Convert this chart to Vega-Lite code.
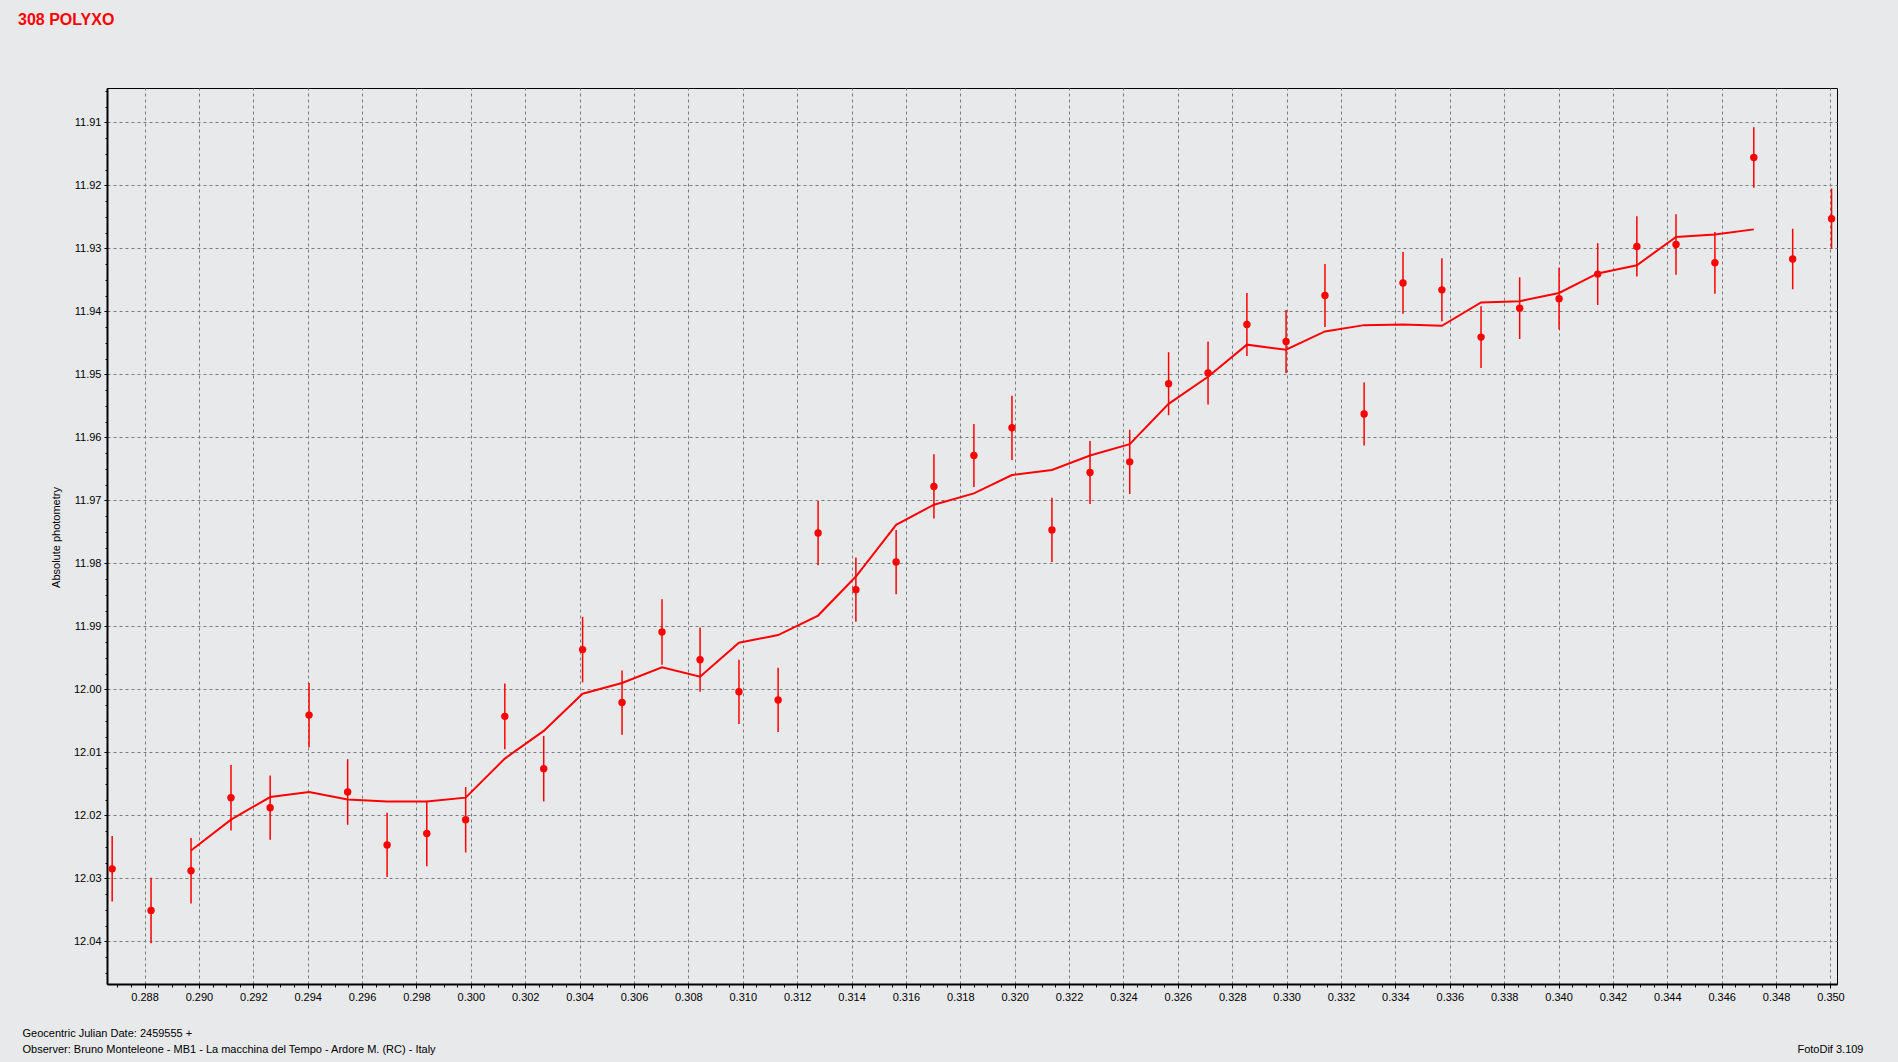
{
  "$schema": "https://vega.github.io/schema/vega-lite/v6.json",
  "width": 1730,
  "height": 896,
  "autosize": {"type": "none"},
  "padding": {"left": 107, "top": 88, "right": 61, "bottom": 78},
  "background": "#e8e9eb",
  "config": {
    "view": {"stroke": "#000000", "strokeWidth": 1},
    "font": "Liberation Sans",
    "axis": {
      "labelFont": "Liberation Sans", "labelFontSize": 11, "labelColor": "#000000",
      "titleFont": "Liberation Sans", "titleFontSize": 11, "titleFontWeight": "normal", "titleColor": "#000000",
      "domainColor": "#000000", "tickColor": "#000000",
      "gridColor": "#7a7a7a", "gridDash": [3, 3], "gridOpacity": 1, "gridWidth": 1
    }
  },
  "title": {
    "text": "308 POLYXO", "anchor": "start", "frame": "group", "color": "#ff0000",
    "font": "Liberation Sans", "fontSize": 16, "fontWeight": "bold", "dx": -89, "offset": 60
  },
  "datasets": {
    "pts": [
      {"jd": 0.28681, "mag": 12.0285, "lo": 12.0233, "hi": 12.0337},
      {"jd": 0.28824, "mag": 12.0351, "lo": 12.0299, "hi": 12.0403},
      {"jd": 0.28971, "mag": 12.0288, "lo": 12.0236, "hi": 12.0340},
      {"jd": 0.29118, "mag": 12.0172, "lo": 12.0120, "hi": 12.0224},
      {"jd": 0.29262, "mag": 12.0188, "lo": 12.0137, "hi": 12.0239},
      {"jd": 0.29405, "mag": 12.0041, "lo": 11.9990, "hi": 12.0092},
      {"jd": 0.29547, "mag": 12.0163, "lo": 12.0111, "hi": 12.0215},
      {"jd": 0.29692, "mag": 12.0247, "lo": 12.0196, "hi": 12.0298},
      {"jd": 0.29838, "mag": 12.0229, "lo": 12.0177, "hi": 12.0281},
      {"jd": 0.29981, "mag": 12.0207, "lo": 12.0155, "hi": 12.0259},
      {"jd": 0.30125, "mag": 12.0043, "lo": 11.9991, "hi": 12.0095},
      {"jd": 0.30268, "mag": 12.0126, "lo": 12.0074, "hi": 12.0178},
      {"jd": 0.30411, "mag": 11.9937, "lo": 11.9885, "hi": 11.9989},
      {"jd": 0.30556, "mag": 12.0021, "lo": 11.9970, "hi": 12.0072},
      {"jd": 0.30703, "mag": 11.9909, "lo": 11.9857, "hi": 11.9961},
      {"jd": 0.30843, "mag": 11.9953, "lo": 11.9902, "hi": 12.0004},
      {"jd": 0.30986, "mag": 12.0004, "lo": 11.9953, "hi": 12.0055},
      {"jd": 0.31130, "mag": 12.0017, "lo": 11.9966, "hi": 12.0068},
      {"jd": 0.31277, "mag": 11.9752, "lo": 11.9701, "hi": 11.9803},
      {"jd": 0.31416, "mag": 11.9842, "lo": 11.9791, "hi": 11.9893},
      {"jd": 0.31564, "mag": 11.9798, "lo": 11.9747, "hi": 11.9849},
      {"jd": 0.31703, "mag": 11.9678, "lo": 11.9627, "hi": 11.9729},
      {"jd": 0.31850, "mag": 11.9629, "lo": 11.9579, "hi": 11.9679},
      {"jd": 0.31990, "mag": 11.9585, "lo": 11.9534, "hi": 11.9636},
      {"jd": 0.32137, "mag": 11.9747, "lo": 11.9696, "hi": 11.9798},
      {"jd": 0.32277, "mag": 11.9656, "lo": 11.9606, "hi": 11.9706},
      {"jd": 0.32423, "mag": 11.9639, "lo": 11.9588, "hi": 11.9690},
      {"jd": 0.32566, "mag": 11.9515, "lo": 11.9465, "hi": 11.9565},
      {"jd": 0.32711, "mag": 11.9498, "lo": 11.9448, "hi": 11.9548},
      {"jd": 0.32854, "mag": 11.9421, "lo": 11.9371, "hi": 11.9471},
      {"jd": 0.32998, "mag": 11.9448, "lo": 11.9398, "hi": 11.9498},
      {"jd": 0.33141, "mag": 11.9375, "lo": 11.9325, "hi": 11.9425},
      {"jd": 0.33285, "mag": 11.9563, "lo": 11.9513, "hi": 11.9613},
      {"jd": 0.33428, "mag": 11.9355, "lo": 11.9306, "hi": 11.9404},
      {"jd": 0.33571, "mag": 11.9366, "lo": 11.9316, "hi": 11.9416},
      {"jd": 0.33715, "mag": 11.9441, "lo": 11.9392, "hi": 11.9490},
      {"jd": 0.33857, "mag": 11.9395, "lo": 11.9346, "hi": 11.9444},
      {"jd": 0.34002, "mag": 11.9380, "lo": 11.9331, "hi": 11.9429},
      {"jd": 0.34144, "mag": 11.9341, "lo": 11.9292, "hi": 11.9390},
      {"jd": 0.34288, "mag": 11.9297, "lo": 11.9249, "hi": 11.9345},
      {"jd": 0.34432, "mag": 11.9294, "lo": 11.9246, "hi": 11.9342},
      {"jd": 0.34575, "mag": 11.9323, "lo": 11.9274, "hi": 11.9372},
      {"jd": 0.34718, "mag": 11.9156, "lo": 11.9108, "hi": 11.9204},
      {"jd": 0.34861, "mag": 11.9317, "lo": 11.9269, "hi": 11.9365},
      {"jd": 0.35004, "mag": 11.9253, "lo": 11.9205, "hi": 11.9301}
    ],
    "avg": [
      {"jd": 0.28971, "mag": 12.0256},
      {"jd": 0.29118, "mag": 12.0207},
      {"jd": 0.29262, "mag": 12.0171},
      {"jd": 0.29405, "mag": 12.0163},
      {"jd": 0.29547, "mag": 12.0175},
      {"jd": 0.29692, "mag": 12.0178},
      {"jd": 0.29838, "mag": 12.0178},
      {"jd": 0.29981, "mag": 12.0172},
      {"jd": 0.30125, "mag": 12.0110},
      {"jd": 0.30268, "mag": 12.0066},
      {"jd": 0.30411, "mag": 12.0007},
      {"jd": 0.30556, "mag": 11.9990},
      {"jd": 0.30703, "mag": 11.9965},
      {"jd": 0.30843, "mag": 11.9980},
      {"jd": 0.30986, "mag": 11.9926},
      {"jd": 0.31130, "mag": 11.9914},
      {"jd": 0.31277, "mag": 11.9883},
      {"jd": 0.31416, "mag": 11.9821},
      {"jd": 0.31564, "mag": 11.9739},
      {"jd": 0.31703, "mag": 11.9707},
      {"jd": 0.31850, "mag": 11.9689},
      {"jd": 0.31990, "mag": 11.9660},
      {"jd": 0.32137, "mag": 11.9652},
      {"jd": 0.32277, "mag": 11.9629},
      {"jd": 0.32423, "mag": 11.9611},
      {"jd": 0.32566, "mag": 11.9547},
      {"jd": 0.32711, "mag": 11.9504},
      {"jd": 0.32854, "mag": 11.9453},
      {"jd": 0.32998, "mag": 11.9461},
      {"jd": 0.33141, "mag": 11.9432},
      {"jd": 0.33285, "mag": 11.9422},
      {"jd": 0.33428, "mag": 11.9421},
      {"jd": 0.33571, "mag": 11.9423},
      {"jd": 0.33715, "mag": 11.9386},
      {"jd": 0.33857, "mag": 11.9384},
      {"jd": 0.34002, "mag": 11.9371},
      {"jd": 0.34144, "mag": 11.9340},
      {"jd": 0.34288, "mag": 11.9327},
      {"jd": 0.34432, "mag": 11.9282},
      {"jd": 0.34575, "mag": 11.9278},
      {"jd": 0.34718, "mag": 11.9270}
    ]
  },
  "resolve": {"axis": {"x": "independent", "y": "independent"}},
  "layer": [
    {
      "data": {"name": "pts"},
      "mark": {"type": "rule", "color": "#ff0000", "strokeWidth": 1.5},
      "encoding": {
        "x": {
          "field": "jd", "type": "quantitative",
          "scale": {"domain": [0.28662, 0.35024], "nice": false, "zero": false},
          "axis": {
            "orient": "bottom",
            "values": [0.288, 0.29, 0.292, 0.294, 0.296, 0.298, 0.3, 0.302, 0.304, 0.306, 0.308, 0.31, 0.312, 0.314, 0.316, 0.318, 0.32, 0.322, 0.324, 0.326, 0.328, 0.33, 0.332, 0.334, 0.336, 0.338, 0.34, 0.342, 0.344, 0.346, 0.348, 0.35],
            "format": ".3f", "grid": true, "tickSize": 4, "tickWidth": 1, "labelPadding": 3,
            "domainWidth": 2, "labelFlush": false, "labelOverlap": false,
            "title": ["Geocentric Julian Date: 2459555 +", "Observer: Bruno Monteleone - MB1 - La macchina del Tempo - Ardore M. (RC) - Italy"],
            "titleX": -85, "titleY": 52, "titleAlign": "left", "titleAnchor": "start",
            "titleBaseline": "alphabetic", "titleLineHeight": 16
          }
        },
        "y": {
          "field": "lo", "type": "quantitative",
          "scale": {"domain": [11.90456, 12.04678], "reverse": true, "nice": false, "zero": false},
          "axis": {
            "orient": "left",
            "values": [11.91, 11.92, 11.93, 11.94, 11.95, 11.96, 11.97, 11.98, 11.99, 12.0, 12.01, 12.02, 12.03, 12.04],
            "format": ".2f", "grid": true, "tickSize": 3, "tickWidth": 1, "labelPadding": 3,
            "domainWidth": 2, "labelFlush": false, "labelOverlap": false,
            "title": "Absolute photometry", "titleX": -51, "titleY": 449, "titleAngle": -90,
            "titleAlign": "center", "titleBaseline": "middle"
          }
        },
        "y2": {"field": "hi"}
      }
    },
    {
      "data": {"name": "pts"},
      "mark": {"type": "circle", "color": "#ff0000", "size": 55, "opacity": 1},
      "encoding": {
        "x": {
          "field": "jd", "type": "quantitative",
          "axis": {
            "orient": "bottom",
            "values": [0.287, 0.2875, 0.288, 0.2885, 0.289, 0.2895, 0.29, 0.2905, 0.291, 0.2915, 0.292, 0.2925, 0.293, 0.2935, 0.294, 0.2945, 0.295, 0.2955, 0.296, 0.2965, 0.297, 0.2975, 0.298, 0.2985, 0.299, 0.2995, 0.3, 0.3005, 0.301, 0.3015, 0.302, 0.3025, 0.303, 0.3035, 0.304, 0.3045, 0.305, 0.3055, 0.306, 0.3065, 0.307, 0.3075, 0.308, 0.3085, 0.309, 0.3095, 0.31, 0.3105, 0.311, 0.3115, 0.312, 0.3125, 0.313, 0.3135, 0.314, 0.3145, 0.315, 0.3155, 0.316, 0.3165, 0.317, 0.3175, 0.318, 0.3185, 0.319, 0.3195, 0.32, 0.3205, 0.321, 0.3215, 0.322, 0.3225, 0.323, 0.3235, 0.324, 0.3245, 0.325, 0.3255, 0.326, 0.3265, 0.327, 0.3275, 0.328, 0.3285, 0.329, 0.3295, 0.33, 0.3305, 0.331, 0.3315, 0.332, 0.3325, 0.333, 0.3335, 0.334, 0.3345, 0.335, 0.3355, 0.336, 0.3365, 0.337, 0.3375, 0.338, 0.3385, 0.339, 0.3395, 0.34, 0.3405, 0.341, 0.3415, 0.342, 0.3425, 0.343, 0.3435, 0.344, 0.3445, 0.345, 0.3455, 0.346, 0.3465, 0.347, 0.3475, 0.348, 0.3485, 0.349, 0.3495, 0.35],
            "labels": false, "grid": false, "domain": false, "tickSize": 3, "tickWidth": 1, "title": null
          }
        },
        "y": {
          "field": "mag", "type": "quantitative",
          "axis": {
            "orient": "left",
            "values": [11.905, 11.9075, 11.91, 11.9125, 11.915, 11.9175, 11.92, 11.9225, 11.925, 11.9275, 11.93, 11.9325, 11.935, 11.9375, 11.94, 11.9425, 11.945, 11.9475, 11.95, 11.9525, 11.955, 11.9575, 11.96, 11.9625, 11.965, 11.9675, 11.97, 11.9725, 11.975, 11.9775, 11.98, 11.9825, 11.985, 11.9875, 11.99, 11.9925, 11.995, 11.9975, 12.0, 12.0025, 12.005, 12.0075, 12.01, 12.0125, 12.015, 12.0175, 12.02, 12.0225, 12.025, 12.0275, 12.03, 12.0325, 12.035, 12.0375, 12.04, 12.0425, 12.045],
            "labels": false, "grid": false, "domain": false, "tickSize": 2, "tickWidth": 1, "title": null
          }
        }
      }
    },
    {
      "data": {"name": "avg"},
      "mark": {"type": "line", "color": "#ff0000", "strokeWidth": 2},
      "encoding": {
        "x": {"field": "jd", "type": "quantitative", "axis": null},
        "y": {
          "field": "mag", "type": "quantitative",
          "axis": {
            "orient": "right", "labels": false, "ticks": false, "grid": false, "domain": false,
            "title": "FotoDif 3.109", "titleAngle": 0, "titleX": 26, "titleY": 964,
            "titleAlign": "right", "titleBaseline": "alphabetic"
          }
        }
      }
    }
  ]
}
